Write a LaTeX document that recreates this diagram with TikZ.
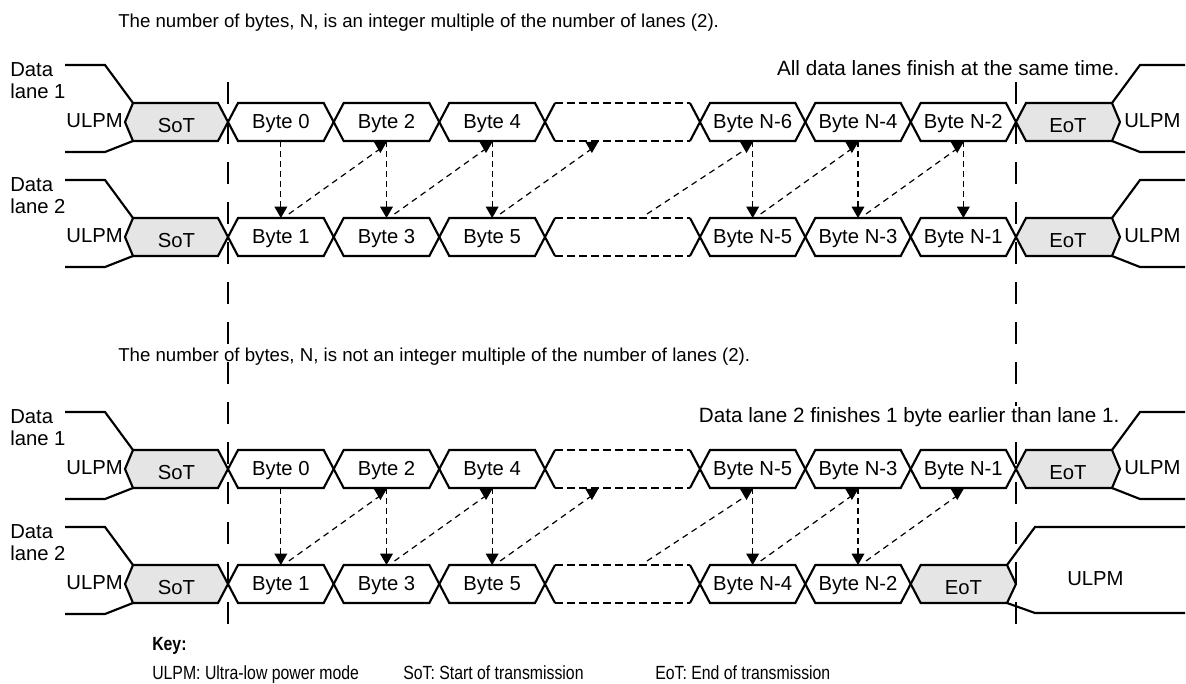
\documentclass[tikz,border=0pt]{standalone}
\usepackage{fontspec}
\setmainfont{Liberation Sans}
\newfontfamily\narrowsans[FakeStretch=0.83]{Liberation Sans}
\usetikzlibrary{arrows.meta}
% hexagon: style, x-left, x-right, y-top, left half-width, right half-width
\newcommand\hexa[6]{\path[#1] (#2,#4+19) -- (#2+#5,#4) -- (#3-#6,#4) -- (#3,#4+19) -- (#3-#6,#4+38) -- (#2+#5,#4+38) -- cycle;}
\newcommand\gapslot[1]{%
 \fill[white] (545,#1+19) -- (555,#1) -- (690,#1) -- (700,#1+19) -- (690,#1+38) -- (555,#1+38) -- cycle;
 \draw[wire] (555,#1) -- (545,#1+19) -- (555,#1+38);
 \draw[wire] (690,#1) -- (700,#1+19) -- (690,#1+38);
 \draw[dwire] (555,#1) -- (690,#1);
 \draw[dwire] (555,#1+38) -- (690,#1+38);}
\newcommand\lanebase[1]{%
 \draw[wire] (65,#1-38) -- (105,#1-38) -- (133,#1);
 \draw[wire] (65,#1+49) -- (105,#1+49) -- (133,#1+38);
 \hexa{ctl}{125}{228}{#1}{8}{10}
 \hexa{sig}{228}{333.7}{#1}{10}{10}
 \hexa{sig}{333.7}{439.3}{#1}{10}{10}
 \hexa{sig}{439.3}{545}{#1}{10}{10}
 \gapslot{#1}
 \hexa{sig}{700}{805.3}{#1}{10}{10}
 \hexa{sig}{805.3}{910.7}{#1}{10}{10}}
\newcommand\laneend[1]{%
 \hexa{sig}{910.7}{1016}{#1}{10}{10}
 \hexa{ctl}{1016}{1120}{#1}{10}{8}
 \draw[wire] (1112,#1) -- (1140,#1-38) -- (1185,#1-38);
 \draw[wire] (1112,#1+38) -- (1140,#1+49) -- (1185,#1+49);}
% byte label: name, x, ytop, text
\newcommand\bt[4]{\node[txt,anchor=base] (#1) at (#2,#3+25) {#4};}
\newcommand\ct[4]{\node[txt,anchor=base] (#1) at (#2,#3+29) {#4};}
\newcommand\lanelabel[3]{%
 \node[txt,anchor=base west] (#1a) at (10,#2-27) {Data};
 \node[txt,anchor=base west] (#1b) at (10,#2-5) {lane #3};
 \node[txt,anchor=base east] (#1u) at (123,#2+24) {ULPM};}
\begin{document}
\begin{tikzpicture}[x=0.75pt,y=-0.75pt,
  sig/.style={draw=black,line width=1.6pt,fill=white,line join=miter},
  ctl/.style={sig,fill=black!10},
  wire/.style={draw=black,line width=1.6pt},
  sep/.style={draw=black,line width=1.8pt,dash pattern=on 16.5pt off 13.5pt},
  dwire/.style={draw=black,line width=1.6pt,dash pattern=on 6pt off 3pt},
  varr/.style={draw=black,line width=0.9pt,dash pattern=on 4.5pt off 3pt,-{Triangle[width=9.5pt,length=8.5pt]}},
  darr/.style={draw=black,line width=0.9pt,dash pattern=on 4.5pt off 3.5pt},
  txt/.style={font=\fontsize{15.2}{18}\selectfont,inner sep=0pt},
  ttl/.style={font=\fontsize{14}{17}\selectfont,inner sep=0pt},
  note/.style={font=\fontsize{15.5}{18}\selectfont,inner sep=1pt,fill=white},
  keyt/.style={font=\narrowsans\fontsize{14.3}{17}\selectfont,inner sep=0pt},
  dhead/.pic={\fill (-4.9pt,-0.6pt) -- (4.9pt,-0.6pt) -- (0,-9pt) -- cycle;}]
\useasboundingbox[fill=white] (0,0) rectangle (1186,683);

% ---------- lanes ----------
\lanebase{103}\laneend{103}
\lanebase{218}\laneend{218}
\lanebase{450}\laneend{450}
\lanebase{565}
\hexa{ctl}{910.7}{1016}{565}{10}{9}
\draw[wire] (1007,565) -- (1035,527) -- (1185,527);
\draw[wire] (1007,603) -- (1035,613) -- (1185,613);

\lanelabel{LA1}{103}{1}
\lanelabel{LA2}{218}{2}
\lanelabel{LB1}{450}{1}
\lanelabel{LB2}{565}{2}
\node[txt,anchor=base west] (ULA1) at (1124,127) {ULPM};
\node[txt,anchor=base west] (ULA2) at (1124,242) {ULPM};
\node[txt,anchor=base west] (ULB1) at (1124,474) {ULPM};
\node[txt,anchor=base west] (ULB2) at (1067,585) {ULPM};

% ---------- slot texts ----------
\ct{A1s0}{176.5}{103}{SoT}
\bt{A1s1}{280.85}{103}{Byte 0}
\bt{A1s2}{386.5}{103}{Byte 2}
\bt{A1s3}{492.15}{103}{Byte 4}
\bt{A1s5}{752.65}{103}{Byte N-6}
\bt{A1s6}{858}{103}{Byte N-4}
\bt{A1s7}{963.35}{103}{Byte N-2}
\ct{A1s8}{1068}{103}{EoT}
\ct{A2s0}{176.5}{218}{SoT}
\bt{A2s1}{280.85}{218}{Byte 1}
\bt{A2s2}{386.5}{218}{Byte 3}
\bt{A2s3}{492.15}{218}{Byte 5}
\bt{A2s5}{752.65}{218}{Byte N-5}
\bt{A2s6}{858}{218}{Byte N-3}
\bt{A2s7}{963.35}{218}{Byte N-1}
\ct{A2s8}{1068}{218}{EoT}
\ct{B1s0}{176.5}{450}{SoT}
\bt{B1s1}{280.85}{450}{Byte 0}
\bt{B1s2}{386.5}{450}{Byte 2}
\bt{B1s3}{492.15}{450}{Byte 4}
\bt{B1s5}{752.65}{450}{Byte N-5}
\bt{B1s6}{858}{450}{Byte N-3}
\bt{B1s7}{963.35}{450}{Byte N-1}
\ct{B1s8}{1068}{450}{EoT}
\ct{B2s0}{176.5}{565}{SoT}
\bt{B2s1}{280.85}{565}{Byte 1}
\bt{B2s2}{386.5}{565}{Byte 3}
\bt{B2s3}{492.15}{565}{Byte 5}
\bt{B2s5}{752.65}{565}{Byte N-4}
\bt{B2s6}{858}{565}{Byte N-2}
\ct{B2s7}{963.35}{565}{EoT}

% ---------- arrow anchor coordinates ----------
\foreach \n/\x/\xs in {1/280.85/280.85,2/386.5/386.5,3/492.15/492.15,4/598/639,5/752.65/752.65,6/858/858,7/963.35/963.35}{
  \coordinate (Abot\n) at (\x,141);
  \coordinate (Atop\n) at (\xs,218);
  \coordinate (Bbot\n) at (\x,488);
  \coordinate (Btop\n) at (\xs,565);
}
% vertical arrows
\foreach \n in {1,2,3,5,6,7}{\draw[varr] (Abot\n) -- (Atop\n);}
\foreach \n in {1,2,3,5,6}{\draw[varr] (Bbot\n) -- (Btop\n);}
% diagonal arrows
\foreach \a/\b in {1/2,2/3,3/4,4/5,5/6,6/7}{
  \draw[darr] ([xshift=6pt,yshift=3pt]Atop\a) -- ([xshift=-5pt,yshift=-6pt]Abot\b);
  \pic at ([xshift=-4.6pt]Abot\b) {dhead};
  \draw[darr] ([xshift=6pt,yshift=3pt]Btop\a) -- ([xshift=-5pt,yshift=-6pt]Bbot\b);
  \pic at ([xshift=-4.6pt]Bbot\b) {dhead};
}

% ---------- separators ----------
\coordinate (SLt) at (228,82);
\coordinate (SLb) at (228,624);
\coordinate (SRt) at (1016,82);
\coordinate (SRb) at (1016,624);
\draw[sep] (SLt) -- (SLb);
\draw[sep] (SRt) -- (SRb);

% ---------- titles ----------
\node[ttl,anchor=base west] (title1) at (118,27) {The number of bytes, N, is an integer multiple of the number of lanes (2).};
\node[note,anchor=base east] (note1) at (1121,75) {All data lanes finish at the same time.};
\node[ttl,anchor=base west] (title2) at (118,361) {The number of bytes, N, is not an integer multiple of the number of lanes (2).};
\node[note,anchor=base east] (note2) at (1121,422) {Data lane 2 finishes 1 byte earlier than lane 1.};

% ---------- key ----------
\node[keyt,font=\narrowsans\fontsize{14.3}{17}\selectfont\bfseries,anchor=base west] (key) at (152,650) {Key:};
\node[keyt,anchor=base west] (k1) at (152,679) {ULPM: Ultra-low power mode};
\node[keyt,anchor=base west] (k2) at (403,679) {SoT: Start of transmission};
\node[keyt,anchor=base west] (k3) at (655,679) {EoT: End of transmission};
\end{tikzpicture}
\end{document}
